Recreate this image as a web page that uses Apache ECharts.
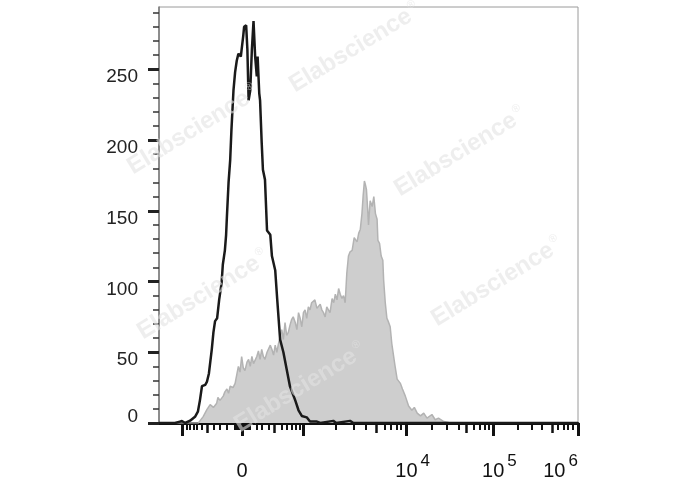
<!DOCTYPE html>
<html>
<head>
<meta charset="utf-8">
<script src="https://cdn.jsdelivr.net/npm/echarts@6/dist/echarts.min.js"></script>
<style>
html,body{margin:0;padding:0;background:#fff;}
#chart{width:688px;height:490px;}
</style>
</head>
<body>
<div id="chart"></div>
<script>
// X is the display channel (0-1024) of a biexponential fluorescence axis
var isotypeX = [0,39,51,56,64,76,88,95,100,105,113,117,122,129,133,137,142,147,153,156,161,164,166,170,174,177,182,186,190,194,200,202,206,208,213,216,219,223,227,231,235,239,241,245,247,251,254,259,264,272,276,284,289,296,304,312,320,333,341,349,361,369,386,394,426,433,467,475,1024];
var isotypeY = [0,0,1,1.4,0,1.6,4.4,8,16,26,27,29,35,52,64,72,74,87,99,112,122,133,146,170,186,207,235,248,256,261,259,264,274,280,281,264,228,235,264,284,259,245,259,233,228,198,179,172,136,133,118,108,87,59,50,38,26,16,9,5,4,1,1,0,1.5,0,1.5,0,0];

var stainedX = [0,91,96,100,108,117,121,125,133,141,144,149,157,161,166,170,174,181,186,190,194,198,202,206,210,215,219,223,227,231,235,239,243,247,251,255,259,264,267,272,276,280,284,288,292,296,300,304,308,312,316,320,324,328,333,337,341,345,349,353,357,361,365,369,373,377,381,386,390,394,398,402,406,410,414,418,423,427,431,435,439,443,447,451,455,459,463,467,472,477,484,488,492,496,499,502,504,507,510,512,516,521,525,529,533,535,539,543,547,549,553,557,560,565,569,577,582,585,590,595,602,610,618,624,631,639,647,655,667,675,683,696,708,717,1024];
var stainedY = [0,0,0,1.5,4.5,9.4,8,13,11,14,18,16,19,22,24,21,26,25,28,34,40,36,47,39,37,43,45,40,47,42,43,47,51,45,52,47,45,50,49,55,52,48,55,50,56,55,66,59,71,62,64,69,73,75,71,66,78,74,68,78,80,74,82,80,85,85,87,81,82,84,80,78,75,82,80,78,88,85,91,87,95,91,88,90,85,106,118,121,122,131,128,134,137,148,161,171,169,165,151,140,157,153,160,148,144,129,127,118,115,101,85,74,72,68,56,40,31,32,28,24,19,12,9,11,7,5,7,3.5,6,2.3,3.5,1,0.4,0,0];

var xMajorTicks = [57,203,352,604,816,1024];
var xMidTicks = [119,282,532,752,960];
var xMinorTicks = [68,76,84,92,104,135,149,166,184,186,189,191,193,196,198,201,206,208,211,213,216,218,220,223,239,251,267,300,312,325,335,343,431,475,506,551,566,580,591,667,704,732,769,783,795,806,877,912,936,975,989,1000,1011];
var xLabelValues = [203,604,816,1024];
var xLabelTexts = ['0','10^4','10^5','10^6'];

var yMajorTicks = [0,50,100,150,200,250];
var yLabelValues = [50,100,150,200,250];
var yMinorTicks = [10,20,30,40,60,70,80,90,110,120,130,140,160,170,180,190,210,220,230,240,260,270,280,290];

var watermarkText = 'Elabscience';

function pairs(xs, ys){ return xs.map(function(x,i){ return [x, ys[i]]; }); }

var FONT = "'Liberation Sans', Arial, sans-serif";

function xLabelFormatter(v){
  var idx = xLabelValues.indexOf(v);
  if (idx < 0) return '';
  var t = xLabelTexts[idx];
  if (t.indexOf('^') < 0) return '{n|' + t + '}';
  var parts = t.split('^');
  if (idx === xLabelValues.length - 1) return '{n|' + parts[0] + '}{e|' + parts[1] + '}{r| }';
  return '{l| }{n|' + parts[0] + '}{e|' + parts[1] + '}';
}

var baseX = {type:'value', min:0, max:1024, position:'bottom', splitLine:{show:false}};
var baseY = {type:'value', min:0, max:294, position:'left', splitLine:{show:false}};

var xAxes = [
  Object.assign({}, baseX, {
    axisLine:{show:true, lineStyle:{color:'#111', width:3}},
    axisTick:{show:true, customValues:xMajorTicks, length:13, lineStyle:{color:'#111', width:3}},
    axisLabel:{show:true, customValues:xLabelValues, margin:30, formatter:xLabelFormatter,
      fontFamily:FONT, color:'#111',
      rich:{
        n:{fontSize:20, fontFamily:FONT, color:'#111', lineHeight:22, padding:[8,0,0,0], verticalAlign:'top'},
        e:{fontSize:17, fontFamily:FONT, color:'#111', lineHeight:17, verticalAlign:'top', padding:[0,0,0,3]},
        l:{width:13, fontSize:10, lineHeight:10},
        r:{width:35, fontSize:10, lineHeight:10}
      }}
  }),
  Object.assign({}, baseX, {
    axisLine:{show:false},
    axisTick:{show:true, customValues:xMidTicks, length:10, lineStyle:{color:'#111', width:2.5}},
    axisLabel:{show:false}
  }),
  Object.assign({}, baseX, {
    axisLine:{show:false},
    axisTick:{show:true, customValues:xMinorTicks, length:7, lineStyle:{color:'#111', width:2}},
    axisLabel:{show:false}
  })
];

var yAxes = [
  Object.assign({}, baseY, {
    axisLine:{show:true, lineStyle:{color:'#777', width:1.5}},
    axisTick:{show:true, customValues:yMajorTicks, length:11, lineStyle:{color:'#222', width:3}},
    axisLabel:{show:true, customValues:yLabelValues, margin:21, fontSize:19, fontFamily:FONT, color:'#222', verticalAlign:'top', lineHeight:16}
  }),
  Object.assign({}, baseY, {
    axisLine:{show:false},
    axisTick:{show:true, customValues:yMinorTicks, length:6, lineStyle:{color:'#333', width:1.5}},
    axisLabel:{show:true, customValues:[0], margin:21, fontSize:19, fontFamily:FONT, color:'#222', verticalAlign:'bottom', lineHeight:12}
  })
];

var wmPos = [[355,48],[460,152],[193,130],[497,282],[203,295],[300,388]];
var graphics = wmPos.map(function(p){
  return {
    type:'text', x:p[0], y:p[1], rotation:0.55, z:100, silent:true,
    style:{
      text:'{a|' + watermarkText + '}{r|®}',
      align:'center', verticalAlign:'middle',
      rich:{
        a:{fontSize:24, fontWeight:'bold', fontFamily:FONT, fill:'rgba(226,226,226,0.6)', lineHeight:26},
        r:{fontSize:11, fontFamily:FONT, fill:'rgba(226,226,226,0.6)', lineHeight:26, verticalAlign:'top', padding:[0,0,14,2]}
      }
    }
  };
});

var chart = echarts.init(document.getElementById('chart'), null, {renderer:'canvas'});
chart.setOption({
  animation:false,
  backgroundColor:'#fff',
  grid:{left:159, right:110, top:7, bottom:67, show:true, borderColor:'#9a9a9a', borderWidth:1, backgroundColor:'transparent'},
  xAxis:xAxes,
  yAxis:yAxes,
  graphic:graphics,
  series:[
    {type:'line', data:pairs(stainedX, stainedY), showSymbol:false, symbol:'none',
     lineStyle:{color:'#b3b3b3', width:1.5}, areaStyle:{color:'#cecece', opacity:1}, z:2},
    {type:'line', data:pairs(isotypeX, isotypeY), showSymbol:false, symbol:'none',
     lineStyle:{color:'#1a1a1a', width:2.5}, z:3}
  ]
});
</script>
</body>
</html>
